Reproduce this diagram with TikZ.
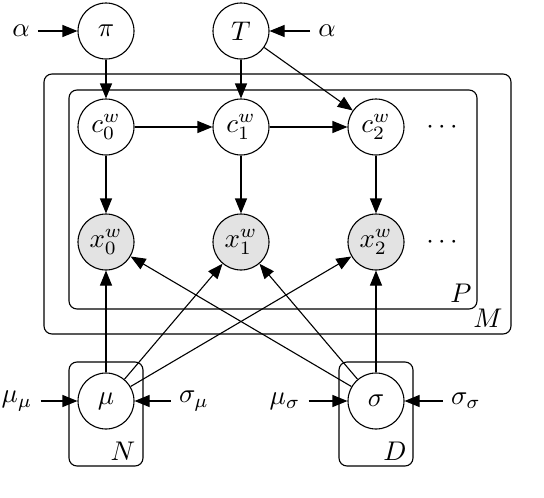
\documentclass[tikz,border=0pt]{standalone}
\usepackage{graphicx}
\usetikzlibrary{arrows.meta}
\newcommand{\mtxt}[1]{\scalebox{2.7}{$#1$}}
\begin{document}
\begin{tikzpicture}[x=1pt,y=-1pt,
  var/.style={circle,draw,line width=1.1pt,minimum size=56pt,inner sep=0pt},
  obs/.style={var,fill=black!11},
  hyper/.style={inner sep=8pt},
  arr/.style={-{Triangle[length=15pt,width=12pt]},line width=1.1pt},
  plate/.style={draw,rounded corners=8pt,line width=1.1pt},
  platelabel/.style={inner sep=0pt}]
\useasboundingbox (0,0) rectangle (544,498);
% plates
\draw[plate] (44,74) rectangle (511,334);
\draw[plate] (69,90) rectangle (477,309);
\draw[plate] (69,362) rectangle (143,466);
\draw[plate] (339,362) rectangle (413,466);
\node[platelabel] (lM) at (488,318) {\mtxt{M}};
\node[platelabel] (lP) at (461,293) {\mtxt{P}};
\node[platelabel] (lN) at (123,451) {\mtxt{N}};
\node[platelabel] (lD) at (395,451) {\mtxt{D}};
% nodes
\node[var] (pi) at (106,31) {\mtxt{\pi}};
\node[var] (T) at (241,31) {\mtxt{T}};
\node[var] (c0) at (106,127) {\mtxt{c_0^w}};
\node[var] (c1) at (241,127) {\mtxt{c_1^w}};
\node[var] (c2) at (376,127) {\mtxt{c_2^w}};
\node[obs] (x0) at (106,242) {\mtxt{x_0^w}};
\node[obs] (x1) at (241,242) {\mtxt{x_1^w}};
\node[obs] (x2) at (376,242) {\mtxt{x_2^w}};
\node[var] (mu) at (106,401) {\mtxt{\mu}};
\node[var] (sigma) at (376,401) {\mtxt{\sigma}};
\node (d1) at (442,127) {\mtxt{\cdots}};
\node (d2) at (442,242) {\mtxt{\cdots}};
% hyperparameters
\node[hyper] (aL) at (21,31) {\mtxt{\alpha}};
\node[hyper] (aR) at (327,31) {\mtxt{\alpha}};
\node[hyper] (mumu) at (17,401) {\mtxt{\mu_\mu}};
\node[hyper] (sigmamu) at (194,401) {\mtxt{\sigma_\mu}};
\node[hyper] (musigma) at (285,401) {\mtxt{\mu_\sigma}};
\node[hyper] (sigmasigma) at (466,401) {\mtxt{\sigma_\sigma}};
% edges
\draw[arr] (aL) -- (pi);
\draw[arr] (aR) -- (T);
\draw[arr] (pi) -- (c0);
\draw[arr] (T) -- (c1);
\draw[arr] (T) -- (c2);
\draw[arr] (c0) -- (c1);
\draw[arr] (c1) -- (c2);
\draw[arr] (c0) -- (x0);
\draw[arr] (c1) -- (x1);
\draw[arr] (c2) -- (x2);
\draw[arr] (mu) -- (x0);
\draw[arr] (mu) -- (x1);
\draw[arr] (mu) -- (x2);
\draw[arr] (sigma) -- (x0);
\draw[arr] (sigma) -- (x1);
\draw[arr] (sigma) -- (x2);
\draw[arr] (mumu) -- (mu);
\draw[arr] (sigmamu) -- (mu);
\draw[arr] (musigma) -- (sigma);
\draw[arr] (sigmasigma) -- (sigma);
\end{tikzpicture}
\end{document}
